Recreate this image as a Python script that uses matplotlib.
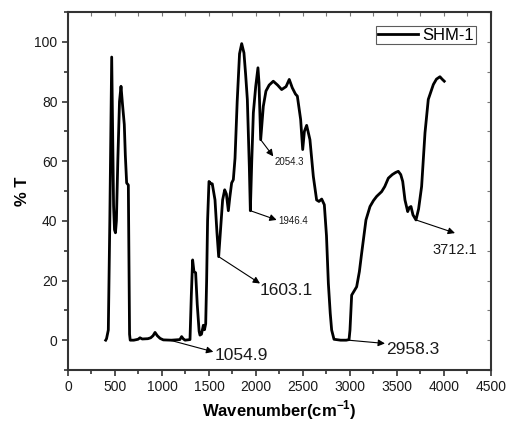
import matplotlib
matplotlib.use("Agg")
import matplotlib.pyplot as plt
from matplotlib.ticker import MultipleLocator

plt.rcParams['font.family'] = ['Liberation Sans', 'DejaVu Sans']
plt.rcParams['mathtext.fontset'] = 'custom'
plt.rcParams['mathtext.bf'] = 'Liberation Sans:bold'
plt.rcParams['mathtext.rm'] = 'Liberation Sans'

wavenumber = [401, 410, 429, 445, 465, 475, 485, 495, 505, 515, 530, 548, 564, 580, 599, 610, 624, 642, 648,
              655, 662, 700, 745, 766, 790, 850, 880, 905, 926, 950, 980, 1014, 1100, 1190, 1209, 1225,
              1245, 1298, 1312, 1326, 1340, 1358, 1375, 1395, 1404, 1420, 1440, 1452, 1465, 1475, 1485,
              1500, 1520, 1535, 1564, 1585, 1603, 1625, 1645, 1667, 1685, 1706, 1722, 1741, 1759, 1777,
              1800, 1825, 1848, 1872, 1890, 1908, 1929, 1940, 1955, 1972, 1997, 2021, 2032, 2050, 2078,
              2106, 2140, 2184, 2230, 2273, 2320, 2354, 2386, 2420, 2440, 2475, 2497, 2515, 2539, 2574,
              2610, 2645, 2670, 2699, 2727, 2750, 2770, 2790, 2805, 2830, 2900, 2960, 2990, 3000, 3018,
              3045, 3071, 3100, 3124, 3170, 3213, 3250, 3284, 3337, 3370, 3408, 3450, 3485, 3514, 3540,
              3561, 3585, 3614, 3632, 3649, 3670, 3702, 3730, 3762, 3798, 3833, 3887, 3920, 3957, 3980,
              4003]
transmittance = [0.0, 0.5, 3.4, 40.0, 94.9, 70.0, 45.0, 37.0, 36.0, 40.0, 60.0, 80.0, 85.1, 79.0, 72.3, 62.0,
                 52.7, 52.0, 30.0, 2.0, 0.0, 0.0, 0.3, 0.8, 0.4, 0.5, 0.8, 1.5, 2.6, 1.5, 0.6, 0.1, 0.0,
                 0.2, 1.2, 0.5, 0.0, 0.2, 15.0, 26.9, 23.0, 22.6, 12.0, 3.0, 1.7, 2.0, 5.0, 3.5, 5.5,
                 20.0, 40.0, 53.2, 52.5, 52.4, 47.0, 36.0, 28.0, 38.0, 47.0, 50.4, 49.0, 43.4, 48.0, 52.7,
                 53.8, 61.0, 80.0, 96.0, 99.4, 96.3, 89.0, 80.7, 58.3, 43.4, 60.0, 76.2, 85.0, 91.3, 86.3,
                 67.2, 78.4, 83.5, 85.5, 86.8, 85.5, 84.0, 85.0, 87.4, 84.6, 82.5, 81.8, 74.0, 63.9, 70.0,
                 72.0, 67.2, 54.9, 47.0, 46.5, 47.3, 45.4, 35.0, 19.0, 9.0, 3.4, 0.3, 0.0, 0.0, 0.2, 3.4,
                 15.1, 16.5, 17.9, 23.0, 29.1, 40.3, 44.8, 46.8, 48.2, 49.8, 51.5, 54.3, 55.5, 56.2, 56.6,
                 55.5, 53.2, 47.0, 43.1, 44.5, 44.8, 42.0, 40.3, 44.0, 51.5, 69.5, 80.7, 85.7, 87.5, 88.3,
                 87.5, 86.8]

series_name = "SHM-1"

ann_labels = ["1054.9", "2958.3", "1603.1", "1946.4", "2054.3", "3712.1"]
ann_from_x = [1085, 2982, 1603, 1940, 2050, 3702]
ann_from_y = [0.0, 0.0, 28.0, 43.4, 67.2, 40.3]
ann_head_x = [1546, 3372, 2043, 2220, 2184, 4117]
ann_head_y = [-3.9, -1.1, 19.0, 40.3, 61.6, 35.9]
ann_text_x = [1560, 3385, 2040, 2235, 2200, 3880]
ann_text_y = [-5.0, -3.0, 16.8, 40.0, 59.7, 30.3]
ann_sizes = [12.5, 12.5, 12.5, 7, 7, 10.5]

fig = plt.figure(figsize=(5.07, 4.30), dpi=100)
ax = fig.add_axes([0.1341, 0.1395, 0.8343, 0.8326])

ax.plot(wavenumber, transmittance, color='black', lw=2.0, label=series_name, solid_joinstyle='round')

for lab, fx, fy, hx, hy, tx, ty, fs in zip(ann_labels, ann_from_x, ann_from_y, ann_head_x, ann_head_y,
                                           ann_text_x, ann_text_y, ann_sizes):
    ax.annotate('', xy=(hx, hy), xytext=(fx, fy),
                arrowprops=dict(arrowstyle='-|>', color='black', lw=0.8,
                                mutation_scale=10, shrinkA=0, shrinkB=0))
    ax.text(tx, ty, lab, fontsize=fs, ha='left', va='center', color='#1a1a1a')

ax.set_xlim(0, 4500)
ax.set_ylim(-10, 110)
ax.xaxis.set_major_locator(MultipleLocator(500))
ax.xaxis.set_minor_locator(MultipleLocator(250))
ax.yaxis.set_minor_locator(MultipleLocator(10))
ax.set_yticks([0, 20, 40, 60, 80, 100])

for s in ax.spines.values():
    s.set_linewidth(1.5)
    s.set_color('#333333')

ax.tick_params(axis='both', which='major', direction='out', length=4, width=1.2,
               color='#333333', labelsize=10, labelcolor='#1a1a1a')
ax.tick_params(axis='both', which='minor', direction='out', length=3, width=1.2, color='#333333')

axt = ax.secondary_xaxis('top')
axt.set_xticks([x for x in range(0, 4501, 250)])
axt.tick_params(direction='in', length=3, width=0.8, color='#777777', labeltop=False)
axt.spines['top'].set_visible(False)
axr = ax.secondary_yaxis('right')
axr.set_yticks([y for y in range(-10, 111, 10)])
axr.tick_params(direction='in', length=3, width=0.8, color='#777777', labelright=False)
axr.spines['right'].set_visible(False)

ax.set_xlabel('Wavenumber(cm$^{\\mathbf{-1}}$)', fontsize=12, fontweight='bold')
ax.set_ylabel('% T', fontsize=12, fontweight='bold')
ax.yaxis.set_label_coords(-0.09, 0.5)
ax.xaxis.set_label_coords(0.5, -0.078)

leg = ax.legend(loc='upper right', fontsize=12, frameon=True, fancybox=False, handlelength=2.4,
                borderpad=0.1, handletextpad=0.3, borderaxespad=0.85, bbox_to_anchor=(0.998, 1.0))
leg.get_frame().set_edgecolor('#333333')
leg.get_frame().set_linewidth(0.8)

fig.savefig('out.png', dpi=100)
